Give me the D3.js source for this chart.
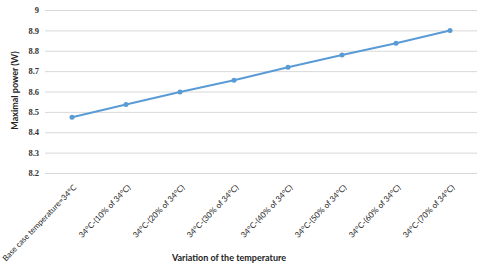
<!DOCTYPE html>
<html>
<head>
<meta charset="utf-8">
<script src="https://cdn.jsdelivr.net/npm/d3@7.9.0/dist/d3.min.js"></script>
<style>
  body { margin: 0; background: #fff; }
  svg { display: block; }
</style>
</head>
<body>
<svg id="chart" width="480" height="278"></svg>
<script>
// categories and values
const categories = [
  'Base case temperature=34°C',
  '34°C-(10% of 34°C)',
  '34°C-(20% of 34°C)',
  '34°C-(30% of 34°C)',
  '34°C-(40% of 34°C)',
  '34°C-(50% of 34°C)',
  '34°C-(60% of 34°C)',
  '34°C-(70% of 34°C)'
];
const power = [8.474, 8.536, 8.598, 8.655, 8.719, 8.779, 8.837, 8.899];
const yTicks = [8.2, 8.3, 8.4, 8.5, 8.6, 8.7, 8.8, 8.9, 9];

const svg = d3.select('#chart');
const plotLeft = 45, plotRight = 477, plotTop = 10, plotBottom = 173;

const x = d3.scaleBand().domain(categories).range([plotLeft, plotRight]);
const y = d3.scaleLinear().domain([8.2, 9]).range([plotBottom, plotTop]);

// gridlines + y labels
const yAxis = svg.append('g')
  .attr('transform', `translate(${plotLeft},0)`)
  .call(d3.axisLeft(y).tickValues(yTicks).tickSize(-(plotRight - plotLeft)).tickPadding(6)
    .tickFormat(d => d === 9 ? '9' : d3.format('.1f')(d)));
yAxis.select('.domain').remove();
yAxis.selectAll('line').attr('stroke', '#d9d9d9').attr('stroke-width', 1);
yAxis.selectAll('text')
  .style('font-family', '"Liberation Serif", "DejaVu Serif", serif')
  .style('font-weight', 'bold')
  .style('font-size', '8.5px')
  .attr('fill', '#333');

// x labels
const xAxis = svg.append('g')
  .attr('transform', `translate(0,${plotBottom})`)
  .call(d3.axisBottom(x).tickSize(0).tickPadding(0));
xAxis.select('.domain').remove();
xAxis.selectAll('text')
  .style('font-family', 'Lato, sans-serif')
  .style('font-size', '8px')
  .attr('fill', '#222')
  .attr('text-anchor', 'end')
  .attr('dy', 0)
  .attr('transform', 'translate(5,15) rotate(-46)');

// line
const line = d3.line()
  .x((d, i) => x(categories[i]) + x.bandwidth() / 2)
  .y(d => y(d));

svg.append('path')
  .datum(power)
  .attr('fill', 'none')
  .attr('stroke', '#5b9bd5')
  .attr('stroke-width', 2)
  .attr('d', line);

svg.selectAll('circle.pt')
  .data(power)
  .join('circle')
  .attr('class', 'pt')
  .attr('cx', (d, i) => x(categories[i]) + x.bandwidth() / 2)
  .attr('cy', d => y(d))
  .attr('r', 2.5)
  .attr('fill', '#5b9bd5');

// axis titles
svg.append('text')
  .attr('transform', `translate(18,${(plotTop + plotBottom) / 2 - 1}) rotate(-90)`)
  .attr('text-anchor', 'middle')
  .style('font-family', 'Lato, sans-serif')
  .style('font-weight', 'bold')
  .style('font-size', '9px')
  .attr('fill', '#222')
  .text('Maximal power (W)');

svg.append('text')
  .attr('x', 229)
  .attr('y', 261)
  .attr('text-anchor', 'middle')
  .style('font-family', 'Lato, sans-serif')
  .style('font-weight', 'bold')
  .style('font-size', '9px')
  .attr('fill', '#222')
  .text('Variation of the temperature');
</script>
</body>
</html>
